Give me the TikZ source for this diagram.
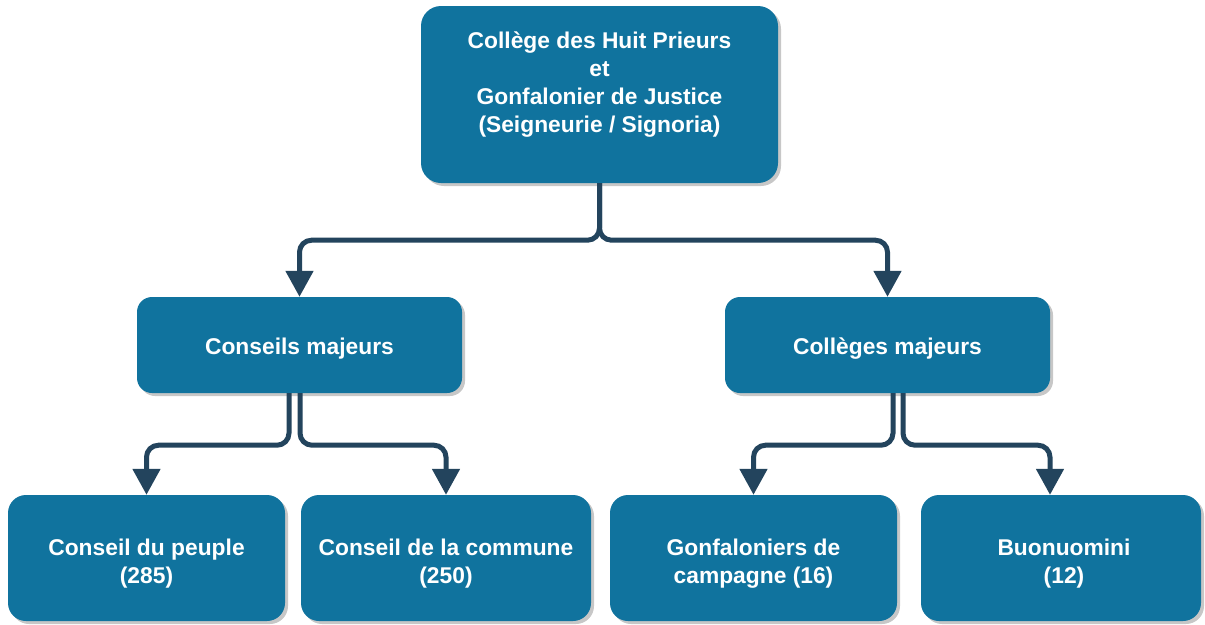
\documentclass[tikz,border=0pt]{standalone}
\usepackage{fontspec}
\setmainfont{Liberation Sans}
\usetikzlibrary{arrows.meta,shadows}
\definecolor{boxblue}{HTML}{10739E}
\definecolor{linenavy}{HTML}{23445D}
\tikzset{
  boxtext/.style={text=white, font=\bfseries\fontsize{22.8}{28}\selectfont, align=center, inner sep=0pt},
  orgbox/.style={fill=boxblue, rounded corners=#1, inner sep=0pt,
    drop shadow={shadow xshift=3pt, shadow yshift=-3pt, fill=black, opacity=0.22}},
  conn/.style={draw=linenavy, line width=5pt, rounded corners=12pt,
    -{Triangle[length=26pt,width=27pt]}}
}
\begin{document}
\begin{tikzpicture}[x=1pt,y=-1pt]
\useasboundingbox[fill=white] (0,0) rectangle (1205,624);

\node[orgbox=20pt, minimum width=357pt, minimum height=177pt,
  label={[boxtext, yshift=9.5pt]center:{Collège des Huit Prieurs\\et\\Gonfalonier de Justice\\(Seigneurie / Signoria)}}]
  (top) at (599.5,94.5) {};

\node[orgbox=15pt, minimum width=325pt, minimum height=96pt,
  label={[boxtext, yshift=-4pt]center:{Conseils majeurs}}] (cm) at (299.5,345) {};
\node[orgbox=15pt, minimum width=325pt, minimum height=96pt,
  label={[boxtext, yshift=-4pt]center:{Collèges majeurs}}] (colm) at (887.5,345) {};

\node[orgbox=18pt, minimum width=277pt, minimum height=126pt,
  label={[boxtext, yshift=-6pt]center:{Conseil du peuple\\(285)}}] (cp) at (146.5,558) {};
\node[orgbox=18pt, minimum width=290pt, minimum height=126pt,
  label={[boxtext, yshift=-6pt]center:{Conseil de la commune\\(250)}}] (cc) at (446,558) {};
\node[orgbox=18pt, minimum width=287pt, minimum height=126pt,
  label={[boxtext, yshift=-6pt]center:{Gonfaloniers de\\campagne (16)}}] (gc) at (753.5,558) {};
\node[orgbox=18pt, minimum width=280pt, minimum height=126pt,
  label={[boxtext, yshift=-6pt, xshift=3pt]center:{Buonuomini\\(12)}}] (bu) at (1061,558) {};

\draw[conn] (top.south) -- ++(0,57) -| (cm.north);
\draw[conn] (top.south) -- ++(0,57) -| (colm.north);

\draw[conn] ([xshift=-10.5pt]cm.south) -- ++(0,52) -| (cp.north);
\draw[conn] ([xshift=0.5pt]cm.south) -- ++(0,52) -| (cc.north);
\draw[conn] ([xshift=5.5pt]colm.south) -- ++(0,52) -| (gc.north);
\draw[conn] ([xshift=15.5pt]colm.south) -- ++(0,52) -| ([xshift=-11pt]bu.north);
\end{tikzpicture}
\end{document}
